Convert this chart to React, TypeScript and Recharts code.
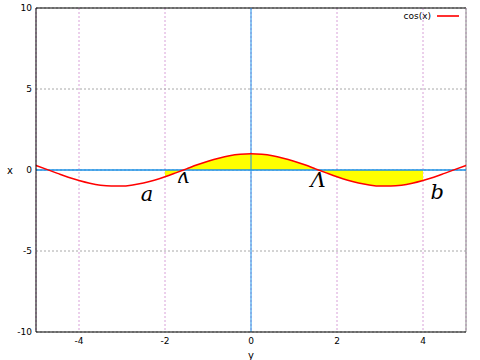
import {
  ComposedChart, Line, Area, XAxis, YAxis, CartesianGrid, ReferenceLine, ReferenceDot,
} from 'recharts'

// samples of cos(x)
const xs = [
  -5, -4.75, -4.5, -4.25, -4, -3.75, -3.5, -3.25, -3, -2.75, -2.5, -2.25, -2, -1.75, -1.5, -1.25, -1, -0.75, -0.5, -0.25,
  0, 0.25, 0.5, 0.75, 1, 1.25, 1.5, 1.75, 2, 2.25, 2.5, 2.75, 3, 3.25, 3.5, 3.75, 4, 4.25, 4.5, 4.75, 5,
]
const cosVals = [
  0.28, 0.04, -0.21, -0.45, -0.65, -0.82, -0.94, -0.99, -0.99, -0.92, -0.8, -0.63, -0.42, -0.18, 0.07, 0.32, 0.54, 0.73, 0.88, 0.97,
  1, 0.97, 0.88, 0.73, 0.54, 0.32, 0.07, -0.18, -0.42, -0.63, -0.8, -0.92, -0.99, -0.99, -0.94, -0.82, -0.65, -0.45, -0.21, 0.04, 0.28,
]
const shadeFrom = -2
const shadeTo = 4

const xTicks = [-4, -2, 0, 2, 4]
const yTicks = [-10, -5, 0, 5, 10]

const marks = [
  { x: -2.42, y: -1.45, text: 'a' },
  { x: -1.58, y: -0.35, text: 'ʌ' },
  { x: 1.56, y: -0.62, text: 'Λ' },
  { x: 4.33, y: -1.3, text: 'b' },
]

const data = xs.map((x, i) => ({
  x,
  cos: cosVals[i],
  shade: x >= shadeFrom && x <= shadeTo ? cosVals[i] : null,
}))

const FONT = '"DejaVu Sans", sans-serif'
const tick = { fontSize: 9, fill: '#000', fontFamily: FONT }

export default function App() {
  return (
    <div style={{ position: 'absolute', left: 0, top: 0, width: 480, height: 360, background: '#fff' }}>
      <ComposedChart width={480} height={360} data={data} margin={{ top: 8, right: 14, left: 0, bottom: 0 }}>
        <CartesianGrid horizontal={false} stroke="#d8a0d8" strokeDasharray="2 2" />
        <CartesianGrid vertical={false} stroke="#a8a8a8" strokeDasharray="2 2" />
        <XAxis
          type="number" dataKey="x" domain={[-5, 5]} ticks={xTicks} height={28}
          tick={tick} tickLine={false} tickSize={4} tickMargin={2}
          axisLine={{ stroke: '#000' }}
          label={{ value: 'y', position: 'insideBottom', offset: 1, fontSize: 10, fill: '#000', fontFamily: FONT }}
        />
        <YAxis
          type="number" domain={[-10, 10]} ticks={yTicks} width={36}
          tick={tick} tickLine={false} tickSize={2} tickMargin={2}
          axisLine={{ stroke: '#000' }}
          label={{ value: 'x', position: 'insideLeft', offset: 7, fontSize: 10, fill: '#000', fontFamily: FONT }}
        />
        <ReferenceLine y={10} stroke="#000" />
        <ReferenceLine x={5} stroke="#888" />
        <Area
          dataKey="shade" type="linear" baseValue={0} fill="#ffff00" fillOpacity={1}
          stroke="none" isAnimationActive={false}
        />
        <ReferenceLine y={0} stroke="#1a90e8" strokeWidth={1.5} />
        <ReferenceLine x={0} stroke="#1a90e8" strokeWidth={1} />
        <Line
          dataKey="cos" type="monotone" stroke="#ff0000" strokeWidth={1.5}
          dot={false} isAnimationActive={false}
        />
        {marks.map((m) => (
          <ReferenceDot
            key={m.text} x={m.x} y={m.y} r={0}
            label={{ value: m.text, position: 'center', fontSize: 21, fill: '#000', fontFamily: '"DejaVu Serif", serif', fontStyle: 'italic' }}
          />
        ))}
      </ComposedChart>
      <div style={{ position: 'absolute', top: 11, left: 380, width: 79, display: 'flex', alignItems: 'center', justifyContent: 'flex-end', fontFamily: FONT, fontSize: 9, color: '#000' }}>
        <span>cos(x)</span>
        <span style={{ display: 'inline-block', width: 22, height: 2, background: '#ff3030', marginLeft: 6 }} />
      </div>
    </div>
  )
}
